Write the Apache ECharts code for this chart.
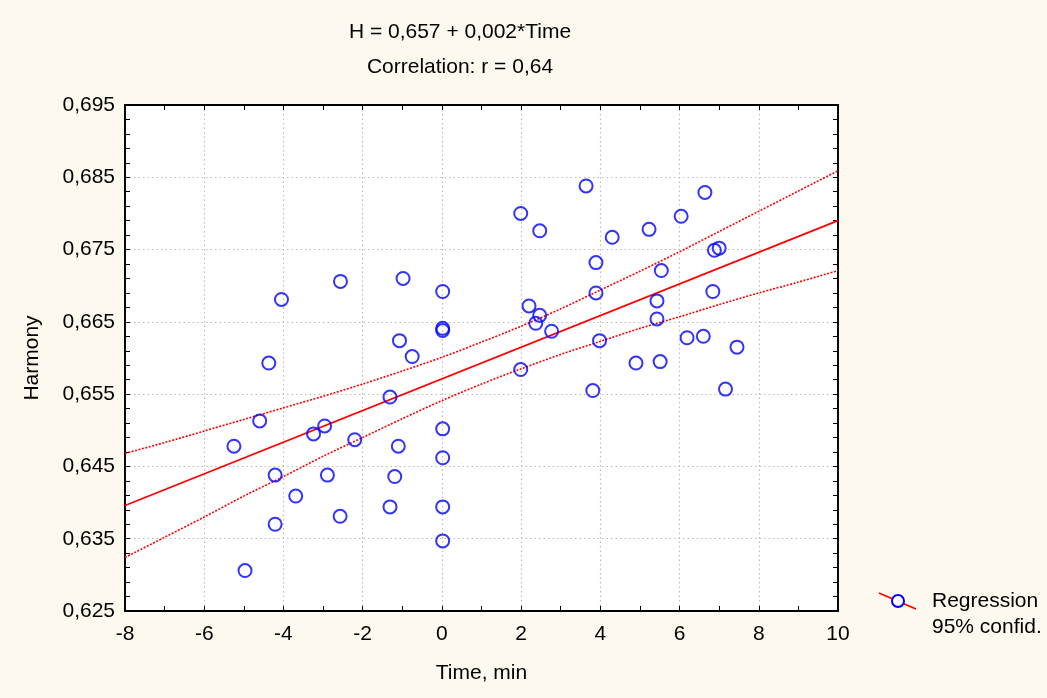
<!DOCTYPE html>
<html>
<head>
<meta charset="utf-8">
<script src="https://cdn.jsdelivr.net/npm/echarts@6/dist/echarts.min.js"></script>
<style>
html,body{margin:0;padding:0;background:#fdf9ee;}
#chart{width:1047px;height:698px;}
</style>
</head>
<body>
<div id="chart"></div>
<script>
// Scatter observations (Time, min ; Harmony)
const timeValues = [-5.25,-4.97,-4.60,-4.37,-4.05,-4.21,-4.21,-3.69,-3.24,-2.96,-2.89,-2.57,-2.56,-2.20,-1.31,-1.31,-1.19,-1.10,-1.07,-0.98,-0.75,
  0.02,0.02,0.02,0.02,0.02,0.02,0.02,1.99,2.20,2.47,2.47,2.37,2.77,1.99,3.64,3.89,3.89,3.81,3.98,4.30,4.90,5.23,5.43,5.43,5.54,5.51,6.04,6.19,6.60,6.64,6.84,6.88,7.00,7.45,7.16];
const harmonyValues = [0.6478,0.6306,0.6513,0.6593,0.6681,0.6438,0.6370,0.6409,0.6495,0.6506,0.6438,0.6381,0.6706,0.6487,0.6546,0.6394,0.6436,0.6478,0.6624,0.6710,0.6602,
  0.6692,0.6641,0.6638,0.6502,0.6462,0.6394,0.6347,0.6800,0.6672,0.6776,0.6659,0.6648,0.6637,0.6584,0.6838,0.6732,0.6690,0.6555,0.6624,0.6767,0.6593,0.6778,0.6679,0.6654,0.6721,0.6595,0.6796,0.6628,0.6630,0.6829,0.6692,0.6749,0.6752,0.6615,0.6557];

// Regression line and 95% confidence band
const fitTimes = [-8, 10];
const fitValues = [0.6396, 0.6790];
const bandTimes = [-8, -7, -6, -5, -4, -3, -2, -1, 0, 1, 2, 3, 4, 5, 6, 7, 8, 9, 10];
const upperBand = [0.6468, 0.6483, 0.6499, 0.6515, 0.6531, 0.6547, 0.6564, 0.6582, 0.6601, 0.6622, 0.6644, 0.6668, 0.6694, 0.6720, 0.6747, 0.6775, 0.6803, 0.6831, 0.6859];
const lowerBand = [0.6324, 0.6352, 0.6380, 0.6409, 0.6436, 0.6464, 0.6490, 0.6516, 0.6541, 0.6564, 0.6585, 0.6605, 0.6623, 0.6641, 0.6657, 0.6674, 0.6690, 0.6705, 0.6721];

// Texts
const titleLine1 = 'H = 0,657 + 0,002*Time';
const titleLine2 = 'Correlation: r = 0,64';
const xAxisName = 'Time, min';
const yAxisName = 'Harmony';
const legendLines = ['Regression', '95% confid.'];

const zip = (a, b) => a.map((v, i) => [v, b[i]]);
const FONT = '"Liberation Sans", Arial, sans-serif';
const FS = 21;

const chart = echarts.init(document.getElementById('chart'), null, {renderer: 'canvas'});
const gridLine = {show: true, lineStyle: {color: '#bcbcbc', type: [1.5, 3], width: 1.2}};
const tickStyle = {color: '#000', width: 1};

chart.setOption({
  backgroundColor: '#fdf9ee',
  animation: false,
  textStyle: {fontFamily: FONT},
  grid: {left: 125, right: 209, top: 105, bottom: 87, show: true, backgroundColor: '#ffffff', borderColor: '#000', borderWidth: 1.5},
  xAxis: [{
    type: 'value', min: -8, max: 10, interval: 2, position: 'bottom',
    name: xAxisName, nameLocation: 'middle', nameGap: 52,
    nameTextStyle: {color: '#000', fontSize: FS, fontFamily: FONT},
    axisLine: {show: true, onZero: false, lineStyle: {color: '#000', width: 1.8}},
    axisTick: {show: true, inside: true, length: 5, lineStyle: tickStyle},
    minorTick: {show: true, splitNumber: 2, length: 5, lineStyle: tickStyle},
    axisLabel: {color: '#000', fontSize: FS, fontFamily: FONT, margin: 13},
    splitLine: gridLine
  }, {
    type: 'value', min: -8, max: 10, interval: 2, position: 'top',
    axisLine: {show: true, onZero: false, lineStyle: {color: '#000', width: 1.8}},
    axisTick: {show: true, inside: true, length: 5, lineStyle: tickStyle},
    minorTick: {show: true, splitNumber: 2, length: 5, lineStyle: tickStyle},
    axisLabel: {show: false}, splitLine: {show: false}
  }],
  yAxis: [{
    type: 'value', min: 0.625, max: 0.695, interval: 0.01, position: 'left',
    name: yAxisName, nameLocation: 'middle', nameGap: 82, nameRotate: 90,
    nameTextStyle: {color: '#000', fontSize: FS, fontFamily: FONT},
    axisLine: {show: true, onZero: false, lineStyle: {color: '#000', width: 1.8}},
    axisTick: {show: true, inside: true, length: 5, lineStyle: tickStyle},
    minorTick: {show: true, splitNumber: 5, length: 5, lineStyle: tickStyle},
    axisLabel: {color: '#000', fontSize: FS, fontFamily: FONT, margin: 10,
      formatter: v => v.toFixed(3).replace('.', ',')},
    splitLine: gridLine
  }, {
    type: 'value', min: 0.625, max: 0.695, interval: 0.01, position: 'right',
    axisLine: {show: true, onZero: false, lineStyle: {color: '#000', width: 1.8}},
    axisTick: {show: true, inside: true, length: 5, lineStyle: tickStyle},
    minorTick: {show: true, splitNumber: 5, length: 5, lineStyle: tickStyle},
    axisLabel: {show: false}, splitLine: {show: false}
  }],
  series: [{
    type: 'line', name: 'upper', data: zip(bandTimes, upperBand), smooth: 0.3, symbol: 'none',
    lineStyle: {color: '#ff0000', width: 1.6, type: [2, 1.5]}, z: 3
  }, {
    type: 'line', name: 'lower', data: zip(bandTimes, lowerBand), smooth: 0.3, symbol: 'none',
    lineStyle: {color: '#ff0000', width: 1.6, type: [2, 1.5]}, z: 3
  }, {
    type: 'line', name: 'fit', data: zip(fitTimes, fitValues), symbol: 'none',
    lineStyle: {color: '#ff0000', width: 1.8}, z: 3
  }, {
    type: 'scatter', name: 'Regression', data: zip(timeValues, harmonyValues),
    symbol: 'circle', symbolSize: 13,
    itemStyle: {color: 'rgba(0,0,0,0)', borderColor: '#0000ff', borderWidth: 2},
    z: 4
  }],
  graphic: [
    {type: 'text', style: {text: titleLine1, x: 460, y: 32, align: 'center', verticalAlign: 'middle', fill: '#000', font: FS + 'px ' + FONT}},
    {type: 'text', style: {text: titleLine2, x: 460, y: 67, align: 'center', verticalAlign: 'middle', fill: '#000', font: FS + 'px ' + FONT}},
    {type: 'line', shape: {x1: 879, y1: 593, x2: 916, y2: 609}, style: {stroke: '#ff0000', lineWidth: 1.6}},
    {type: 'circle', shape: {cx: 898, cy: 601, r: 6}, style: {fill: '#ffffff', stroke: '#0000ff', lineWidth: 2}},
    {type: 'text', style: {text: legendLines[0], x: 932, y: 601, align: 'left', verticalAlign: 'middle', fill: '#000', font: FS + 'px ' + FONT}},
    {type: 'text', style: {text: legendLines[1], x: 932, y: 627, align: 'left', verticalAlign: 'middle', fill: '#000', font: FS + 'px ' + FONT}}
  ]
});
</script>
</body>
</html>
